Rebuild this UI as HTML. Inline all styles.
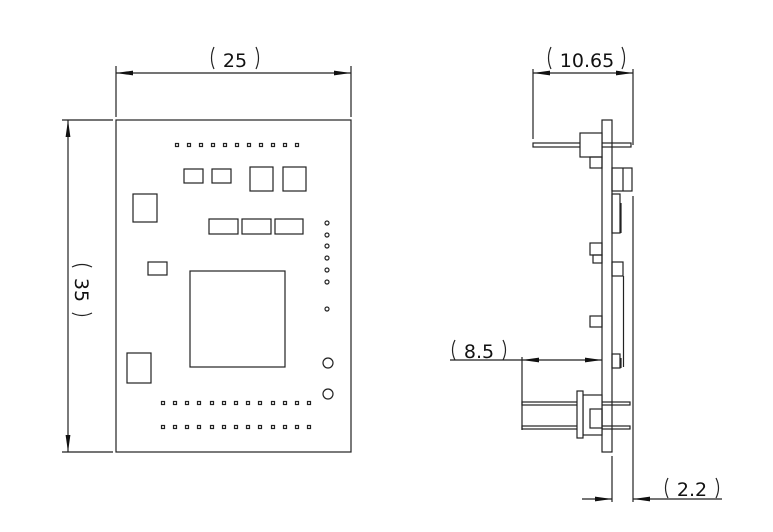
<!DOCTYPE html>
<html><head><meta charset="utf-8"><style>
html,body{margin:0;padding:0;background:#fff}
svg{display:block}
text{font-family:"DejaVu Sans","Liberation Sans",sans-serif;font-size:19px;fill:#111}
</style></head><body>
<svg width="773" height="532" viewBox="0 0 773 532" xmlns="http://www.w3.org/2000/svg">
<defs>
<marker id="a" markerWidth="17" markerHeight="8" refX="17" refY="4" orient="auto" markerUnits="userSpaceOnUse"><path d="M0,1.6 L17,4 L0,6.4z" fill="#111"/></marker>
<marker id="b" markerWidth="17" markerHeight="8" refX="0" refY="4" orient="auto" markerUnits="userSpaceOnUse"><path d="M17,1.6 L0,4 L17,6.4z" fill="#111"/></marker>
</defs>
<g stroke="#222" stroke-width="1.2" fill="none">
<rect x="116" y="120" width="235" height="332"/>
<line x1="116" y1="66" x2="116" y2="117"/><line x1="351" y1="66" x2="351" y2="117"/>
<line x1="116" y1="73" x2="351" y2="73" marker-start="url(#b)" marker-end="url(#a)"/>
<line x1="62" y1="120" x2="113" y2="120"/><line x1="62" y1="452" x2="113" y2="452"/>
<line x1="68" y1="120" x2="68" y2="452" marker-start="url(#b)" marker-end="url(#a)"/>
<g>
<rect x="175.5" y="143.5" width="3" height="3"/><rect x="187.5" y="143.5" width="3" height="3"/><rect x="199.5" y="143.5" width="3" height="3"/><rect x="211.5" y="143.5" width="3" height="3"/><rect x="223.5" y="143.5" width="3" height="3"/><rect x="235.5" y="143.5" width="3" height="3"/><rect x="247.5" y="143.5" width="3" height="3"/><rect x="259.5" y="143.5" width="3" height="3"/><rect x="271.5" y="143.5" width="3" height="3"/><rect x="283.5" y="143.5" width="3" height="3"/><rect x="295.5" y="143.5" width="3" height="3"/>
</g>
<rect x="184" y="169" width="19" height="14"/><rect x="212" y="169" width="19" height="14"/>
<rect x="250" y="167" width="23" height="24"/><rect x="283" y="167" width="23" height="24"/>
<rect x="133" y="194" width="24" height="28"/>
<rect x="209" y="219" width="29" height="15"/><rect x="242" y="219" width="29" height="15"/><rect x="275" y="219" width="28" height="15"/>
<circle cx="327" cy="223" r="2"/><circle cx="327" cy="235" r="2"/><circle cx="327" cy="246" r="2"/><circle cx="327" cy="258" r="2"/><circle cx="327" cy="270" r="2"/><circle cx="327" cy="282" r="2"/><circle cx="327" cy="309" r="2"/>
<rect x="148" y="262" width="19" height="13"/>
<rect x="190" y="271" width="95" height="96"/>
<rect x="127" y="353" width="24" height="30"/>
<circle cx="328" cy="363" r="5"/><circle cx="328" cy="394" r="5"/>
<g>
<rect x="161.5" y="401.5" width="3" height="3"/><rect x="173.5" y="401.5" width="3" height="3"/><rect x="185.5" y="401.5" width="3" height="3"/><rect x="197.5" y="401.5" width="3" height="3"/><rect x="210.5" y="401.5" width="3" height="3"/><rect x="222.5" y="401.5" width="3" height="3"/><rect x="234.5" y="401.5" width="3" height="3"/><rect x="246.5" y="401.5" width="3" height="3"/><rect x="258.5" y="401.5" width="3" height="3"/><rect x="271.5" y="401.5" width="3" height="3"/><rect x="283.5" y="401.5" width="3" height="3"/><rect x="295.5" y="401.5" width="3" height="3"/><rect x="307.5" y="401.5" width="3" height="3"/>
<rect x="161.5" y="425.5" width="3" height="3"/><rect x="173.5" y="425.5" width="3" height="3"/><rect x="185.5" y="425.5" width="3" height="3"/><rect x="197.5" y="425.5" width="3" height="3"/><rect x="210.5" y="425.5" width="3" height="3"/><rect x="222.5" y="425.5" width="3" height="3"/><rect x="234.5" y="425.5" width="3" height="3"/><rect x="246.5" y="425.5" width="3" height="3"/><rect x="258.5" y="425.5" width="3" height="3"/><rect x="271.5" y="425.5" width="3" height="3"/><rect x="283.5" y="425.5" width="3" height="3"/><rect x="295.5" y="425.5" width="3" height="3"/><rect x="307.5" y="425.5" width="3" height="3"/>
</g>
<rect x="602" y="120" width="10" height="332"/>
<rect x="533" y="143" width="98" height="4"/>
<rect x="580" y="133" width="22" height="24" fill="#fff"/>
<rect x="590" y="157" width="12" height="11"/>
<rect x="612" y="168" width="20" height="23"/><line x1="623" y1="168" x2="623" y2="191"/>
<rect x="612" y="194" width="8" height="39"/><line x1="621" y1="203" x2="621" y2="233"/>
<rect x="612" y="262" width="11" height="14"/><line x1="623.5" y1="276" x2="623.5" y2="367"/>
<rect x="612" y="354" width="8" height="14"/><line x1="621" y1="358" x2="621" y2="368"/>
<rect x="590" y="243" width="12" height="12"/><rect x="593" y="255" width="9" height="8"/>
<rect x="590" y="316" width="12" height="11"/>
<rect x="522" y="402" width="108" height="3"/><rect x="522" y="426" width="108" height="3"/>
<rect x="583" y="395" width="19" height="40" fill="#fff"/>
<rect x="577" y="391" width="6" height="47" fill="#fff"/>
<rect x="590" y="409" width="12" height="19"/>
<line x1="533" y1="69" x2="533" y2="139"/>
<line x1="633" y1="69" x2="633" y2="145"/><line x1="633" y1="196" x2="633" y2="502"/>
<line x1="533" y1="73" x2="633" y2="73" marker-start="url(#b)" marker-end="url(#a)"/>
<line x1="522" y1="357" x2="522" y2="430"/>
<line x1="450" y1="360" x2="522" y2="360"/>
<line x1="522" y1="360" x2="602" y2="360" marker-start="url(#b)" marker-end="url(#a)"/>
<line x1="612" y1="456" x2="612" y2="502"/>
<line x1="582" y1="499" x2="612" y2="499" marker-end="url(#a)"/>
<line x1="722" y1="499" x2="633" y2="499" marker-end="url(#a)"/>
<path d="M214,47 Q209,58 214,69"/><path d="M256,47 Q261,58 256,69"/>
<path d="M551,47 Q546,58 551,69"/><path d="M622,47 Q627,58 622,69"/>
<path d="M455,340 Q450,350 455,360"/><path d="M503,340 Q508,350 503,360"/>
<path d="M668,478 Q663,488 668,498"/><path d="M716,478 Q721,488 716,498"/>
<path d="M72,267 Q82,262 92,267"/><path d="M72,313 Q82,318 92,313"/>
</g>
<text x="235" y="67" text-anchor="middle">25</text>
<text x="587" y="67" text-anchor="middle">10.65</text>
<text x="479" y="358" text-anchor="middle">8.5</text>
<text x="692" y="496" text-anchor="middle">2.2</text>
<text transform="translate(75,290) rotate(90)" text-anchor="middle">35</text>
</svg>
</body></html>
